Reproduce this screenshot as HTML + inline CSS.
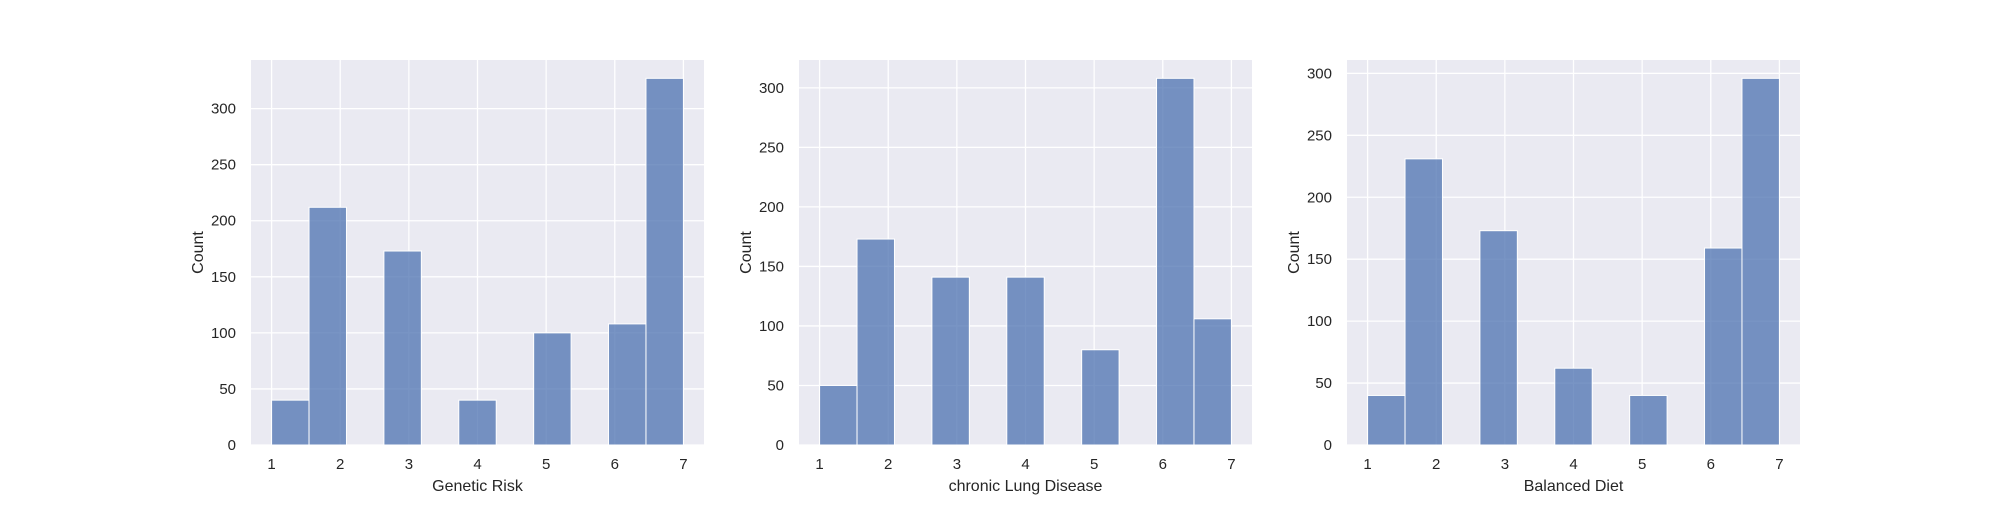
<!DOCTYPE html>
<html><head><meta charset="utf-8"><style>
body{margin:0;background:#fff;}
svg text{font-family:"Liberation Sans","DejaVu Sans",sans-serif;fill:#262626;}
</style></head><body>
<svg id="chart" width="2000" height="500" xmlns="http://www.w3.org/2000/svg"></svg>
<script>
const xTicks = [1,2,3,4,5,6,7];
const binCount = 11;
const titles = ["Genetic Risk","chronic Lung Disease","Balanced Diet"];
const countsGenetic = [40,212,0,173,0,40,0,100,0,108,327];
const countsLung = [50,173,0,141,0,141,0,80,0,308,106];
const countsDiet = [40,231,0,173,0,62,0,40,0,159,296];
const yTicksA = [0,50,100,150,200,250,300];
const yTicksB = [0,50,100,150,200,250,300];
const yTicksC = [0,50,100,150,200,250,300];

const svgEl = document.getElementById('chart');
const NS = 'http://www.w3.org/2000/svg';
function mk(tag, attrs, parent){const e=document.createElementNS(NS,tag);for(const k in attrs)e.setAttribute(k,attrs[k]);(parent||svgEl).appendChild(e);return e;}

const panels = [
  {left:251, counts:countsGenetic, yt:yTicksA, label:titles[0], key:'genetic-risk'},
  {left:799, counts:countsLung, yt:yTicksB, label:titles[1], key:'lung-disease'},
  {left:1347, counts:countsDiet, yt:yTicksC, label:titles[2], key:'balanced-diet'}
];
const W=453, plotTop=60, plotBottom=445;
panels.forEach(p=>{
  const g = mk('g',{});
  
  
  const xmin=1-0.3, xmax=7+0.3;
  const xs = v => p.left + (v - xmin)/(xmax - xmin)*W;
  const ymax = Math.max(...p.counts)*1.05;
  const ys = v => plotBottom - v/ymax*(plotBottom-plotTop);
  const bg = mk('rect',{x:p.left,y:plotTop,width:W,height:plotBottom-plotTop,fill:'#eaeaf2'},g);
  
  
  xTicks.forEach(t=>{
    mk('line',{x1:xs(t),x2:xs(t),y1:plotTop,y2:plotBottom,stroke:'#fff','stroke-width':1.3},g);
    const tl = mk('text',{x:xs(t),y:469,'font-size':15,'text-anchor':'middle'},g);
    tl.textContent=t;
    
    
  });
  p.yt.forEach(t=>{
    if (ys(t) < plotTop) return;
    mk('line',{x1:p.left,x2:p.left+W,y1:ys(t),y2:ys(t),stroke:'#fff','stroke-width':1.3},g);
    const tl = mk('text',{x:p.left-15,y:ys(t)+5,'font-size':15,'text-anchor':'end'},g);
    tl.textContent=t;
    
    
  });
  const bw = 6/binCount;
  p.counts.forEach((c,i)=>{
    if(c<=0) return;
    const x0 = xs(1+i*bw), x1 = xs(1+(i+1)*bw);
    const r = mk('rect',{x:x0,y:ys(c),width:x1-x0,height:plotBottom-ys(c),fill:'#4c72b0','fill-opacity':0.75,stroke:'#fff','stroke-width':1},g);
    
    
  });
  const xl = mk('text',{x:p.left+W/2,y:491,'font-size':16,'text-anchor':'middle'},g);
  xl.textContent=p.label;
  
  
  const yl = mk('text',{x:0,y:0,'font-size':16,'text-anchor':'middle',transform:`translate(${p.left-48},${(plotTop+plotBottom)/2}) rotate(-90)`},g);
  yl.textContent='Count';
  
  
});
</script>
</body></html>
